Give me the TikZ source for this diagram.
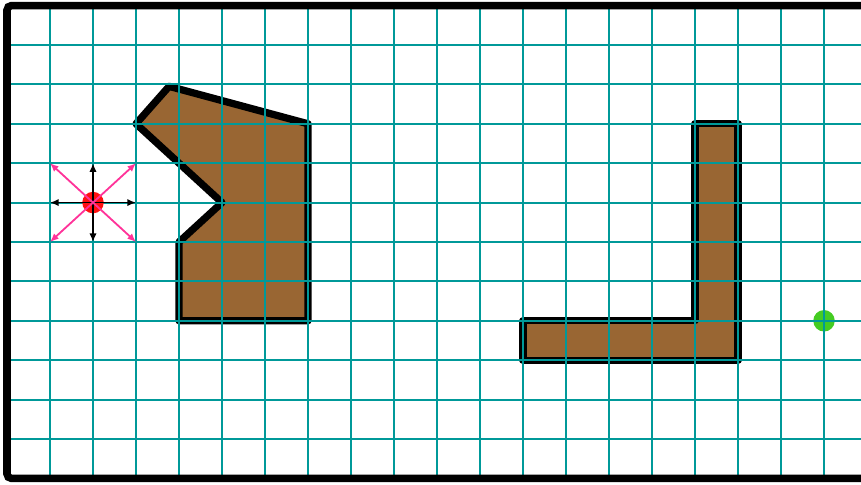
\documentclass[tikz,border=0pt]{standalone}
\usetikzlibrary{positioning,arrows.meta}
\definecolor{gridteal}{RGB}{0,153,153}
\definecolor{obstbrown}{RGB}{153,102,51}
\definecolor{movepink}{RGB}{255,51,153}
\definecolor{goalgreen}{RGB}{68,204,34}
\definecolor{robotred}{RGB}{255,17,17}

\begin{document}
\begin{tikzpicture}[x=1cm, y=0.9163cm,
  gridline/.style={gridteal, line width=1.3pt},
  obstacle/.style={draw=black, fill=obstbrown, line width=4.8pt, line join=round},
  robotdot/.style={circle, fill=robotred, minimum size=0.5cm, inner sep=0pt},
  goaldot/.style={circle, fill=goalgreen, minimum size=0.5cm, inner sep=0pt},
  straightmove/.style={black, line width=1.2pt, -{Latex[length=2mm,width=1.7mm]}},
  diagmove/.style={movepink, line width=1.2pt, -{Latex[length=2mm,width=1.7mm]}}
]
\useasboundingbox (-0.163,-0.142) rectangle (19.86,12.142);
\clip (-0.163,-0.142) rectangle (19.86,12.142);
% obstacles
\draw[obstacle] (3.77,9.95) -- (7,9) -- (7,4) -- (4,4) -- (4,6) -- (5,7) -- (3,9) -- cycle;
\draw[obstacle] (16,9) -- (17,9) -- (17,3) -- (12,3) -- (12,4) -- (16,4) -- cycle;
% goal
\node[goaldot] (goal) at (19,4) {};
% grid
\foreach \x in {1,...,19}
  \draw[gridline] (\x,0) -- (\x,12);
\foreach \y in {1,...,11}
  \draw[gridline] (0,\y) -- (20,\y);
% border
\draw[line width=5pt, rounded corners=3pt] (0,0) rectangle (20,12);
% robot and its moves
\node[robotdot] (robot) at (2,7) {};
\coordinate (w) at (1,7);
\coordinate (e) at (3,7);
\coordinate (n) at (2,8);
\coordinate (s) at (2,6);
\coordinate (nw) at (1,8);
\coordinate (ne) at (3,8);
\coordinate (sw) at (1,6);
\coordinate (se) at (3,6);
\foreach \d in {w,e,n,s}
  \draw[straightmove] (robot.center) -- (\d);
\foreach \d in {nw,ne,sw,se}
  \draw[diagmove] (robot.center) -- (\d);
\end{tikzpicture}
\end{document}
